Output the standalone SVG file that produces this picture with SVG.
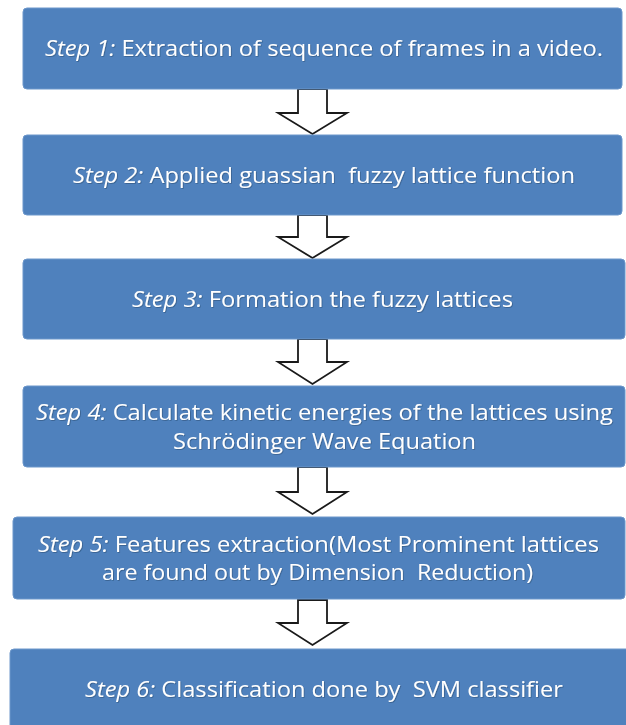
<svg xmlns="http://www.w3.org/2000/svg" width="626" height="725" viewBox="0 0 626 725">
  <defs>
    <filter id="txtShadow" x="-5%" y="-20%" width="110%" height="140%">
      <feDropShadow dx="0.8" dy="0.8" stdDeviation="0.6" flood-color="#1f3550" flood-opacity="0.45"/>
    </filter>
  </defs>
  <style>
    .box { fill: #4F81BD; stroke: #6C97CB; stroke-width: 1; }
    .lbl { font-family: "Open Sans", Lato, "Liberation Sans", sans-serif; font-size: 21px; fill: #ffffff; white-space: pre; filter: url(#txtShadow); }
    .em { font-style: italic; }
    .arrow { fill: #ffffff; stroke: #1a1a1a; stroke-width: 1.8; stroke-linejoin: miter; }
  </style>

  <rect x="0" y="0" width="626" height="725" fill="#ffffff"/>

  <!-- connectors: hollow block arrows between steps -->
  <g id="connectors">
    <path class="arrow" d="M298,89 L327,89 L327,113 L347,113 L312.5,134 L278,113 L298,113 Z"/>
    <path class="arrow" d="M298,215 L327,215 L327,237 L347,237 L312.5,258 L278,237 L298,237 Z"/>
    <path class="arrow" d="M298,339 L327,339 L327,362 L347,362 L312.5,384 L278,362 L298,362 Z"/>
    <path class="arrow" d="M298,467 L327,467 L327,492 L347,492 L312.5,514 L278,492 L298,492 Z"/>
    <path class="arrow" d="M298,600 L327,600 L327,623 L347,623 L312.5,645 L278,623 L298,623 Z"/>
  </g>

  <g id="step1">
    <rect class="box" x="23" y="8" width="599" height="81" rx="4"/>
    <text class="lbl" x="45" y="56" textLength="558" lengthAdjust="spacingAndGlyphs"><tspan class="em">Step 1:</tspan> Extraction of sequence of frames in a video.</text>
  </g>

  <g id="step2">
    <rect class="box" x="23" y="135" width="599" height="80" rx="4"/>
    <text class="lbl" x="73" y="183" textLength="502" lengthAdjust="spacingAndGlyphs"><tspan class="em">Step 2:</tspan> Applied guassian  fuzzy lattice function</text>
  </g>

  <g id="step3">
    <rect class="box" x="23" y="259" width="602" height="80" rx="4"/>
    <text class="lbl" x="132" y="307" textLength="381" lengthAdjust="spacingAndGlyphs"><tspan class="em">Step 3:</tspan> Formation the fuzzy lattices</text>
  </g>

  <g id="step4">
    <rect class="box" x="23" y="386" width="602" height="81" rx="4"/>
    <text class="lbl" x="36" y="420" textLength="577" lengthAdjust="spacingAndGlyphs"><tspan class="em">Step 4:</tspan> Calculate kinetic energies of the lattices using</text>
    <text class="lbl" x="173" y="449" textLength="303" lengthAdjust="spacingAndGlyphs">Schrödinger Wave Equation</text>
  </g>

  <g id="step5">
    <rect class="box" x="13" y="517" width="612" height="82" rx="4"/>
    <text class="lbl" x="38" y="552" textLength="561" lengthAdjust="spacingAndGlyphs"><tspan class="em">Step 5:</tspan> Features extraction(Most Prominent lattices</text>
    <text class="lbl" x="102" y="580" textLength="431" lengthAdjust="spacingAndGlyphs">are found out by Dimension  Reduction)</text>
  </g>

  <g id="step6">
    <rect class="box" x="10" y="649" width="630" height="90" rx="4"/>
    <text class="lbl" x="85" y="697" textLength="478" lengthAdjust="spacingAndGlyphs"><tspan class="em">Step 6:</tspan> Classification done by  SVM classifier</text>
  </g>
</svg>
